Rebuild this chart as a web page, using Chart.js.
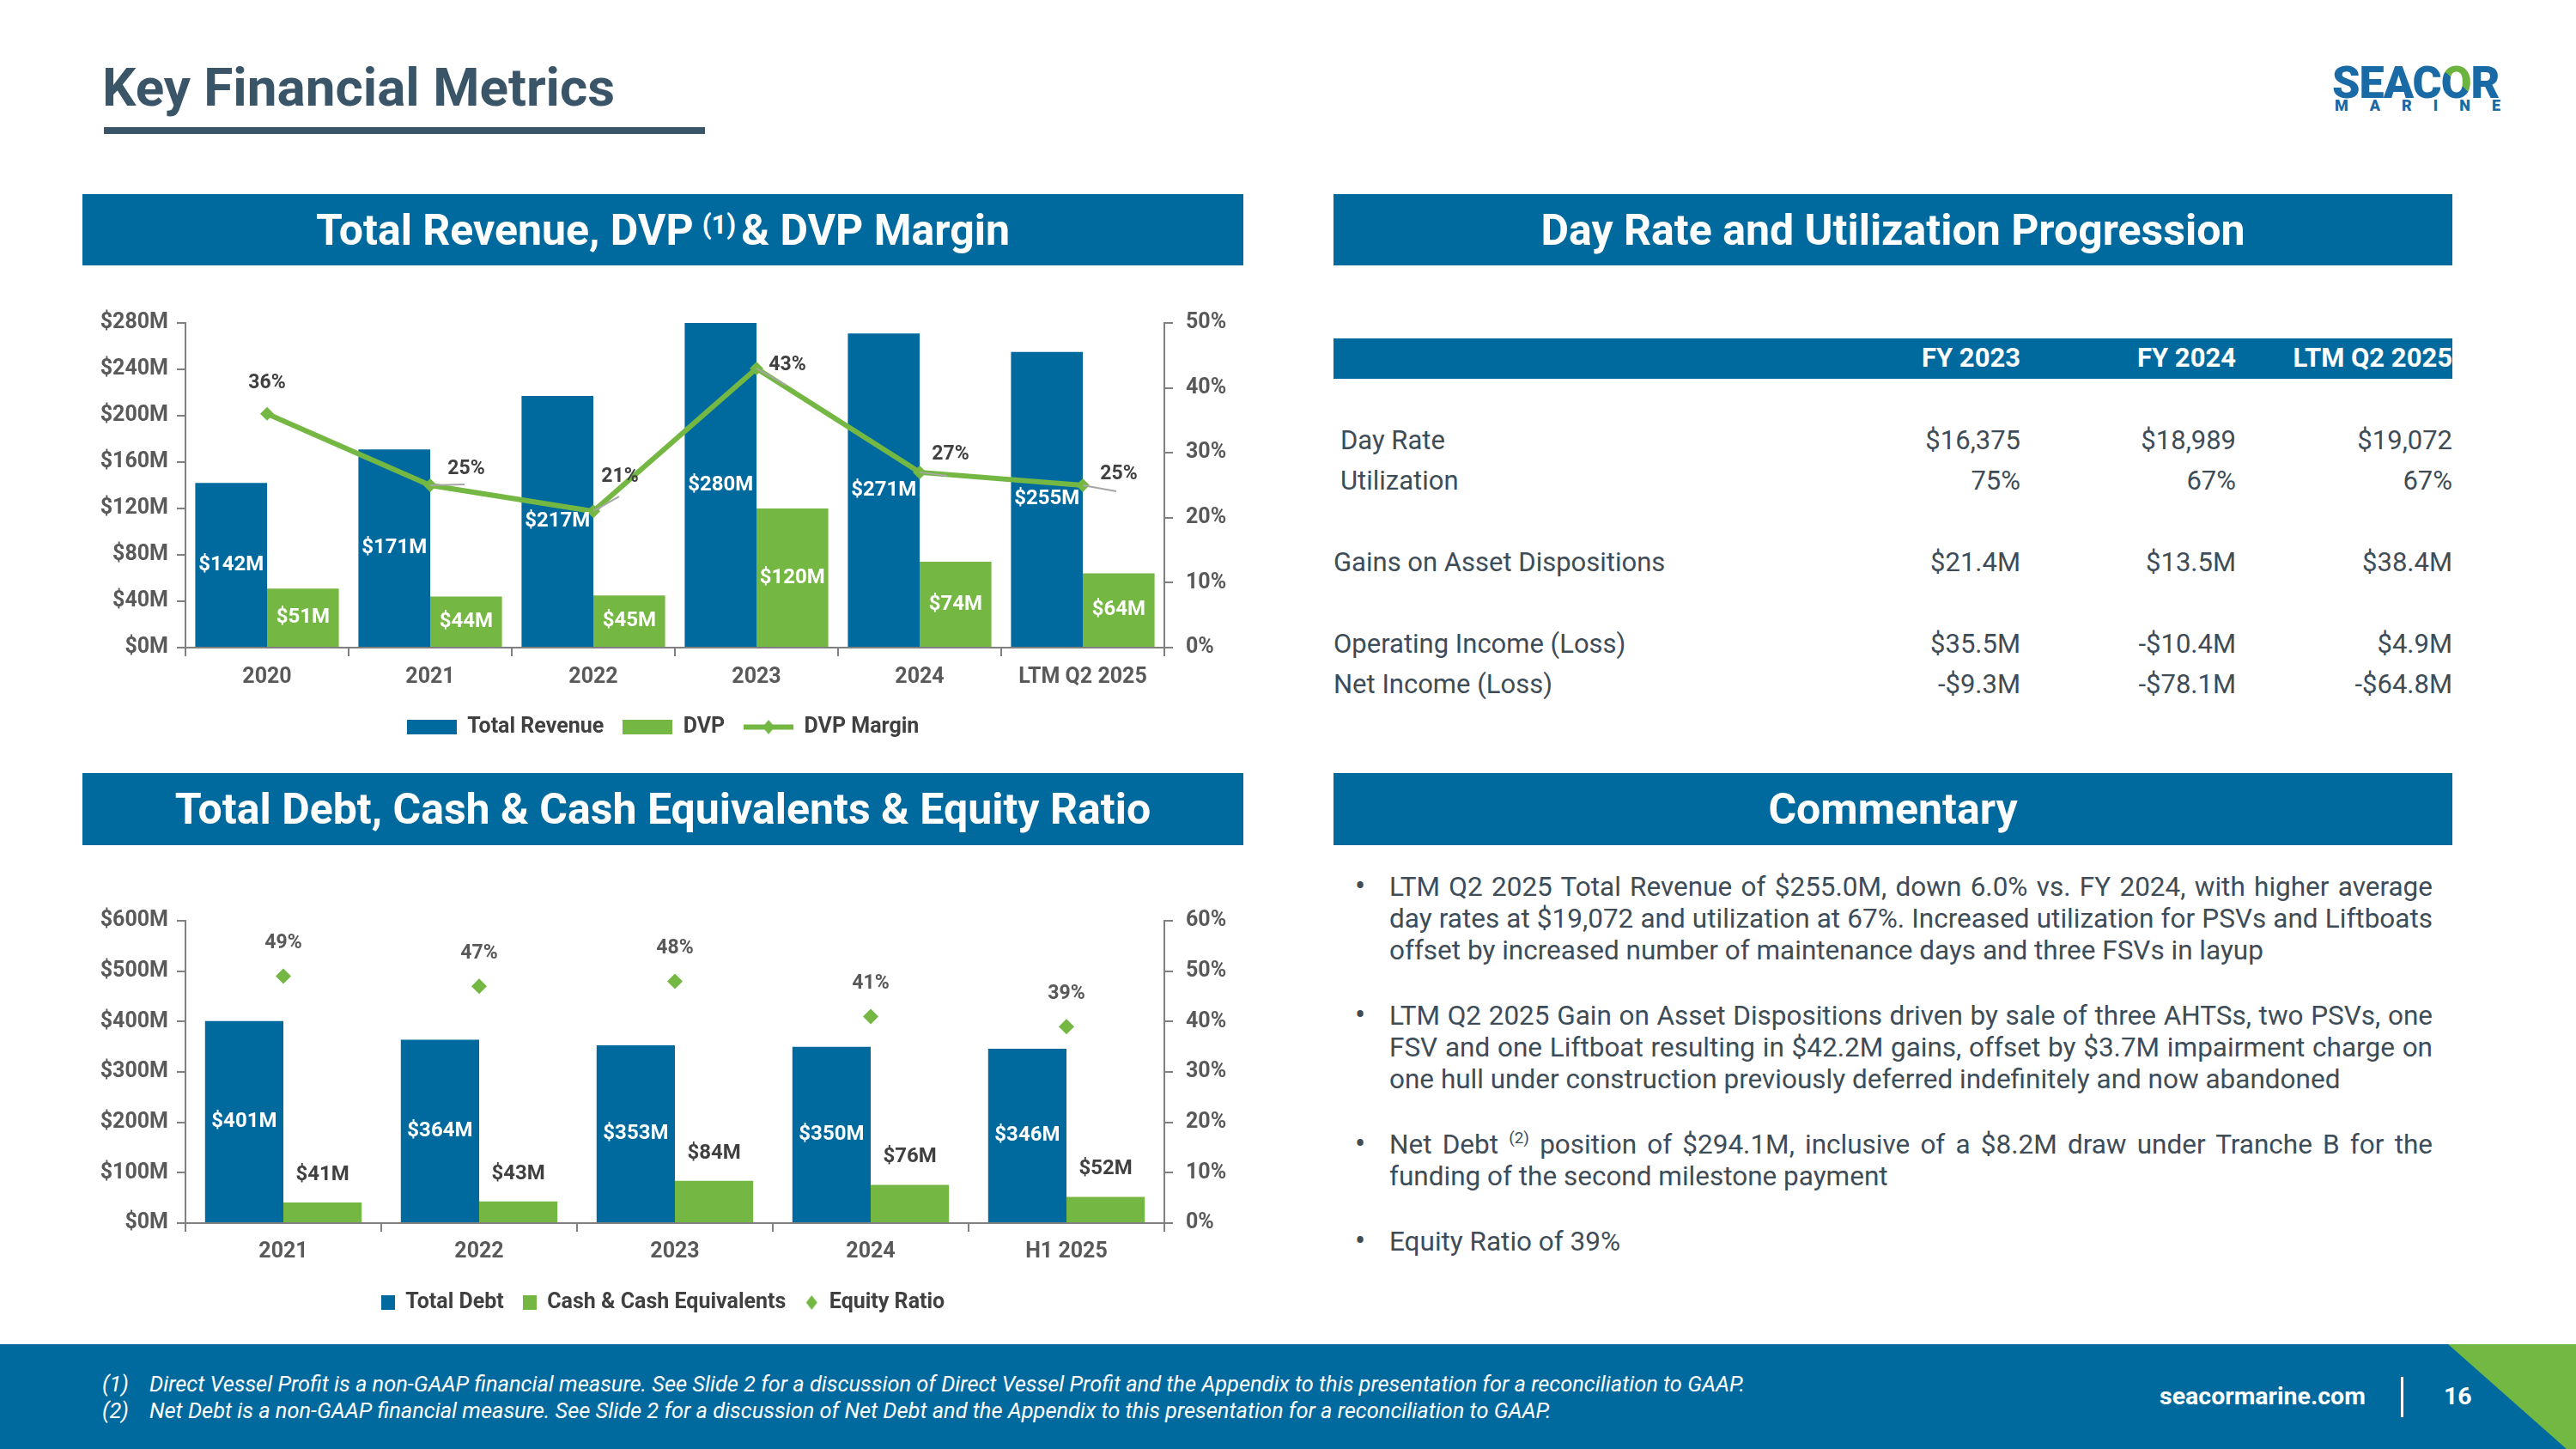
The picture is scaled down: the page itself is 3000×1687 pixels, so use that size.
<!DOCTYPE html>
<html>
<head>
<meta charset="utf-8">
<script src="https://cdn.jsdelivr.net/npm/chart.js@4.4.1/dist/chart.umd.min.js"></script>
<style>
  body { margin: 0; width: 3000px; height: 1687px; position: relative; overflow: hidden; background: #fff; font-family: Roboto, sans-serif; }
  .abs { position: absolute; }
  .title { left: 119px; top: 65px; font-size: 62px; font-weight: 700; color: #3a5568; white-space: nowrap; }
  .rule { left: 121px; top: 148px; width: 700px; height: 8px; background: #3b5568; }
  .band { background: #006a9f; color: #fff; font-weight: 700; font-size: 50px; display: flex; align-items: center; justify-content: center; white-space: nowrap; }
  .band sup { font-size: 31px; margin: 0 6px 0 10px; position: relative; top: -6px; }
  .logo1 { left: 2716px; top: 66px; font-family: "Roboto"; font-weight: 900; font-size: 52px; color: #1a6aa6; letter-spacing: -1px; }
  .logo1 .o { background: linear-gradient(40deg, #1a6aa6 52%, #6cb33f 52%); -webkit-background-clip: text; background-clip: text; color: transparent; }
  .logo2 { left: 2719px; top: 112px; width: 193px; display: flex; justify-content: space-between; font-weight: 900; font-size: 18px; color: #1a6aa6; }
  .chartbox { left: 96px; width: 1352px; }
  .thead { left: 1553px; top: 394px; width: 1303px; height: 47px; background: #006a9f; }
  .cell { font-size: 31px; color: #3e4c58; white-space: nowrap; line-height: 40px; }
  .hcell { font-size: 31px; color: #fff; font-weight: 700; white-space: nowrap; line-height: 40px; }
  .comm { left: 1580px; top: 1014px; width: 1253px; font-size: 31.5px; line-height: 37px; color: #3e4c58; }
  .comm .item { position: relative; padding-left: 38px; text-align: justify; margin-bottom: 39px; }
  .comm .item:before { content: "\2022"; position: absolute; left: -2px; top: 0; font-size: 36px; line-height: 37px; }
  .comm sup { font-size: 19px; line-height: 0; vertical-align: 0; position: relative; top: -12px; }
  .footer { left: 0; top: 1565px; width: 3000px; height: 122px; background: #006a9f; }
  .fn { color: #fff; font-style: italic; font-size: 25.4px; white-space: nowrap; line-height: 31px; }
</style>
</head>
<body>
<div class="abs title">Key Financial Metrics</div>
<div class="abs rule"></div>
<div class="abs logo1">SEAC<span class="o">O</span>R</div>
<div class="abs logo2"><span>M</span><span>A</span><span>R</span><span>I</span><span>N</span><span>E</span></div>

<div class="abs band" style="left:96px;top:226px;width:1352px;height:83px;">Total Revenue, DVP<sup>(1)</sup>&amp; DVP Margin</div>
<div class="abs band" style="left:1553px;top:226px;width:1303px;height:83px;">Day Rate and Utilization Progression</div>
<div class="abs band" style="left:96px;top:900px;width:1352px;height:84px;">Total Debt, Cash &amp; Cash Equivalents &amp; Equity Ratio</div>
<div class="abs band" style="left:1553px;top:900px;width:1303px;height:84px;">Commentary</div>

<div class="abs chartbox" style="top:330px;height:539px;"><canvas id="revChart"></canvas></div>
<div class="abs chartbox" style="top:1030px;height:509px;"><canvas id="debtChart"></canvas></div>

<div class="abs thead"></div>
<div id="table"></div>

<div class="abs comm">
  <div class="item">LTM Q2 2025 Total Revenue of $255.0M, down 6.0% vs. FY 2024, with higher average day rates at $19,072 and utilization at 67%. Increased utilization for PSVs and Liftboats offset by increased number of maintenance days and three FSVs in layup</div>
  <div class="item">LTM Q2 2025 Gain on Asset Dispositions driven by sale of three AHTSs, two PSVs, one FSV and one Liftboat resulting in $42.2M gains, offset by $3.7M impairment charge on one hull under construction previously deferred indefinitely and now abandoned</div>
  <div class="item">Net Debt <sup>(2)</sup> position of $294.1M, inclusive of a $8.2M draw under Tranche B for the funding of the second milestone payment</div>
  <div class="item">Equity Ratio of 39%</div>
</div>

<div class="abs footer"></div>
<svg class="abs" style="left:0;top:1565px;" width="3000" height="122"><polygon points="2851,0 3000,0 3000,122 2989,122" fill="#72b843"/></svg>
<div class="abs fn" style="left:119px;top:1596px;">(1)</div>
<div class="abs fn" style="left:174px;top:1596px;">Direct Vessel Profit is a non-GAAP financial measure. See Slide 2 for a discussion of Direct Vessel Profit and the Appendix to this presentation for a reconciliation to GAAP.</div>
<div class="abs fn" style="left:119px;top:1627px;">(2)</div>
<div class="abs fn" style="left:174px;top:1627px;">Net Debt is a non-GAAP financial measure. See Slide 2 for a discussion of Net Debt and the Appendix to this presentation for a reconciliation to GAAP.</div>
<div class="abs" style="left:2515px;top:1609px;color:#fff;font-weight:700;font-size:28.5px;">seacormarine.com</div>
<div class="abs" style="left:2796px;top:1603px;width:3px;height:47px;background:#fff;"></div>
<div class="abs" style="left:2846px;top:1609px;color:#fff;font-weight:700;font-size:28.5px;">16</div>

<script>
// top chart data
const revenueYears = ['2020', '2021', '2022', '2023', '2024', 'LTM Q2 2025'];
const totalRevenue = [142, 171, 217, 280, 271, 255];
const dvp = [51, 44, 45, 120, 74, 64];
const dvpMargin = [36, 25, 21, 43, 27, 25];

// bottom chart data
const debtYears = ['2021', '2022', '2023', '2024', 'H1 2025'];
const totalDebt = [401, 364, 353, 350, 346];
const cashEquivalents = [41, 43, 84, 76, 52];
const equityRatio = [49, 47, 48, 41, 39];

// table data
const tableColumns = ['FY 2023', 'FY 2024', 'LTM Q2 2025'];
const tableLabels = ['Day Rate', 'Utilization', 'Gains on Asset Dispositions', 'Operating Income (Loss)', 'Net Income (Loss)'];
const tableValues = [
  ['$16,375', '$18,989', '$19,072'],
  ['75%', '67%', '67%'],
  ['$21.4M', '$13.5M', '$38.4M'],
  ['$35.5M', '-$10.4M', '$4.9M'],
  ['-$9.3M', '-$78.1M', '-$64.8M']
];

const BLUE = '#006a9f';
const GREEN = '#74b843';
const AXIS = '#808080';
const TICK = '#595959';

// where the margin labels sit relative to their point (moved by hand in the original)
const marginLabelOffsets = [[0, -36], [42, -19], [31, -40], [36, -4], [36, -21], [42, -13]];
// grey leader lines from the point toward the moved label
const marginLeaders = [null, [40, -1], [30, -17], [35, 20], [32, 4], [39, 7]];

// build table
(function () {
  const colRight = [2353, 2604, 2856];
  const rowY = [513, 560, 655, 750, 797];
  const labelX = [1561, 1561, 1553, 1553, 1553];
  let html = '';
  tableColumns.forEach((c, i) => {
    html += `<div class="abs hcell" style="right:${3000 - colRight[i]}px;top:${417 - 20}px;">${c}</div>`;
  });
  tableLabels.forEach((l, r) => {
    html += `<div class="abs cell" style="left:${labelX[r]}px;top:${rowY[r] - 20}px;">${l}</div>`;
    tableValues[r].forEach((v, i) => {
      html += `<div class="abs cell" style="right:${3000 - colRight[i]}px;top:${rowY[r] - 20}px;">${v}</div>`;
    });
  });
  document.getElementById('table').innerHTML = html;
})();

Chart.defaults.font.family = 'Roboto';
Chart.defaults.font.weight = 'bold';
Chart.defaults.font.size = 25;
Chart.defaults.color = TICK;

// small canvases used as legend symbols
function swatch(w, h, draw) {
  const c = document.createElement('canvas');
  c.width = w; c.height = h;
  draw(c.getContext('2d'), w, h);
  return c;
}
function rectSwatch(w, h, color) {
  return swatch(w, h, (g) => { g.fillStyle = color; g.fillRect(0, 0, w, h); });
}
function diamond(g, cx, cy, rx, ry, color) {
  g.fillStyle = color;
  g.beginPath();
  g.moveTo(cx, cy - ry); g.lineTo(cx + rx, cy); g.lineTo(cx, cy + ry); g.lineTo(cx - rx, cy);
  g.closePath(); g.fill();
}

// draws value labels for datasets that carry a valueLabel setting
const valueLabels = {
  id: 'valueLabels',
  afterDatasetsDraw(chart) {
    const ctx = chart.ctx;
    chart.data.datasets.forEach((ds, i) => {
      const lab = ds.valueLabel;
      if (!lab) return;
      const meta = chart.getDatasetMeta(i);
      meta.data.forEach((el, j) => {
        ctx.save();
        if (lab.leaders && lab.leaders[j]) {
          ctx.strokeStyle = '#a6a6a6';
          ctx.lineWidth = 2;
          ctx.beginPath();
          ctx.moveTo(el.x, el.y);
          ctx.lineTo(el.x + lab.leaders[j][0], el.y + lab.leaders[j][1]);
          ctx.stroke();
        }
        let x = el.x;
        let y = lab.pos === 'center' ? (el.y + el.base) / 2 : el.y + (lab.dy || 0);
        if (lab.offsets) { x += lab.offsets[j][0]; y += lab.offsets[j][1]; }
        ctx.font = 'bold ' + (lab.size || 24) + 'px Roboto';
        ctx.fillStyle = lab.color;
        ctx.textAlign = 'center';
        ctx.textBaseline = 'middle';
        ctx.fillText(lab.format(ds.data[j]), x, y);
        ctx.restore();
      });
    });
  }
};

function axes(leftMax, leftStep, rightMax, rightStep, xPad) {
  const grid = { drawOnChartArea: false, drawTicks: true, tickLength: 10, color: AXIS, lineWidth: 2 };
  const border = { display: true, color: AXIS, width: 2 };
  return {
    x: {
      grid: grid, border: border,
      ticks: { padding: xPad, color: TICK },
      afterFit: (s) => { s.height = 58; }
    },
    y: {
      position: 'left', min: 0, max: leftMax,
      grid: grid, border: border,
      ticks: { stepSize: leftStep, padding: 10, color: TICK, callback: (v) => '$' + v + 'M' },
      afterFit: (s) => { s.width = 120; }
    },
    y2: {
      position: 'right', min: 0, max: rightMax,
      grid: grid, border: border,
      ticks: { stepSize: rightStep, padding: 15, color: TICK, callback: (v) => v + '%' },
      afterFit: (s) => { s.width = 92; }
    }
  };
}

const revLegend = [
  { text: 'Total Revenue', pointStyle: rectSwatch(58, 17, BLUE) },
  { text: 'DVP', pointStyle: rectSwatch(58, 17, GREEN) },
  { text: 'DVP Margin', pointStyle: swatch(58, 17, (g, w, h) => {
      g.fillStyle = GREEN; g.fillRect(0, h / 2 - 3, w, 6);
      diamond(g, w / 2, h / 2, 7, 8.5, GREEN);
    }) }
];

new Chart(document.getElementById('revChart'), {
  type: 'bar',
  data: {
    labels: revenueYears,
    datasets: [
      {
        type: 'line', label: 'DVP Margin', data: dvpMargin, yAxisID: 'y2',
        borderColor: GREEN, backgroundColor: GREEN, borderWidth: 6,
        pointStyle: 'rectRot', pointRadius: 8, pointBackgroundColor: GREEN, pointBorderWidth: 0,
        tension: 0,
        valueLabel: { pos: 'point', color: '#404040', size: 23, offsets: marginLabelOffsets, leaders: marginLeaders, format: (v) => v + '%' }
      },
      {
        label: 'Total Revenue', data: totalRevenue, yAxisID: 'y', backgroundColor: BLUE,
        categoryPercentage: 0.88, barPercentage: 1.0,
        valueLabel: { pos: 'center', color: '#ffffff', format: (v) => '$' + v + 'M' }
      },
      {
        label: 'DVP', data: dvp, yAxisID: 'y', backgroundColor: GREEN,
        categoryPercentage: 0.88, barPercentage: 1.0,
        valueLabel: { pos: 'center', color: '#ffffff', format: (v) => '$' + v + 'M' }
      }
    ]
  },
  options: {
    responsive: true, maintainAspectRatio: false, animation: false,
    layout: { padding: { top: 46, left: 0, right: 0, bottom: 0 } },
    scales: axes(280, 40, 50, 10, 10),
    plugins: {
      tooltip: { enabled: false },
      legend: {
        position: 'bottom',
        labels: {
          usePointStyle: true, pointStyleWidth: 58, boxHeight: 17, padding: 22,
          color: '#404040', font: { size: 25, weight: 'bold' },
          generateLabels: () => revLegend.map((it) => ({ text: it.text, pointStyle: it.pointStyle, fontColor: '#404040', lineWidth: 0, hidden: false }))
        }
      }
    }
  },
  plugins: [valueLabels]
});

const debtLegend = [
  { text: 'Total Debt', pointStyle: rectSwatch(16, 17, BLUE) },
  { text: 'Cash & Cash Equivalents', pointStyle: rectSwatch(16, 17, GREEN) },
  { text: 'Equity Ratio', pointStyle: swatch(16, 17, (g, w, h) => diamond(g, w / 2, h / 2, 6.5, 8.5, GREEN)) }
];

new Chart(document.getElementById('debtChart'), {
  type: 'bar',
  data: {
    labels: debtYears,
    datasets: [
      {
        type: 'line', label: 'Equity Ratio', data: equityRatio, yAxisID: 'y2', showLine: false,
        pointStyle: 'rectRot', pointRadius: 9, pointBackgroundColor: GREEN, pointBorderWidth: 0,
        valueLabel: { pos: 'point', dy: -38, color: TICK, size: 23, format: (v) => v + '%' }
      },
      {
        label: 'Total Debt', data: totalDebt, yAxisID: 'y', backgroundColor: BLUE,
        categoryPercentage: 0.8, barPercentage: 1.0,
        valueLabel: { pos: 'center', color: '#ffffff', format: (v) => '$' + v + 'M' }
      },
      {
        label: 'Cash & Cash Equivalents', data: cashEquivalents, yAxisID: 'y', backgroundColor: GREEN,
        categoryPercentage: 0.8, barPercentage: 1.0,
        valueLabel: { pos: 'point', dy: -32, color: '#404040', format: (v) => '$' + v + 'M' }
      }
    ]
  },
  options: {
    responsive: true, maintainAspectRatio: false, animation: false,
    layout: { padding: { top: 42, left: 0, right: 0, bottom: 0 } },
    scales: axes(600, 100, 60, 10, 9),
    plugins: {
      tooltip: { enabled: false },
      legend: {
        position: 'bottom',
        labels: {
          usePointStyle: true, pointStyleWidth: 16, boxHeight: 17, padding: 22,
          color: '#404040', font: { size: 25, weight: 'bold' },
          generateLabels: () => debtLegend.map((it) => ({ text: it.text, pointStyle: it.pointStyle, fontColor: '#404040', lineWidth: 0, hidden: false }))
        }
      }
    }
  },
  plugins: [valueLabels]
});
</script>
</body>
</html>
